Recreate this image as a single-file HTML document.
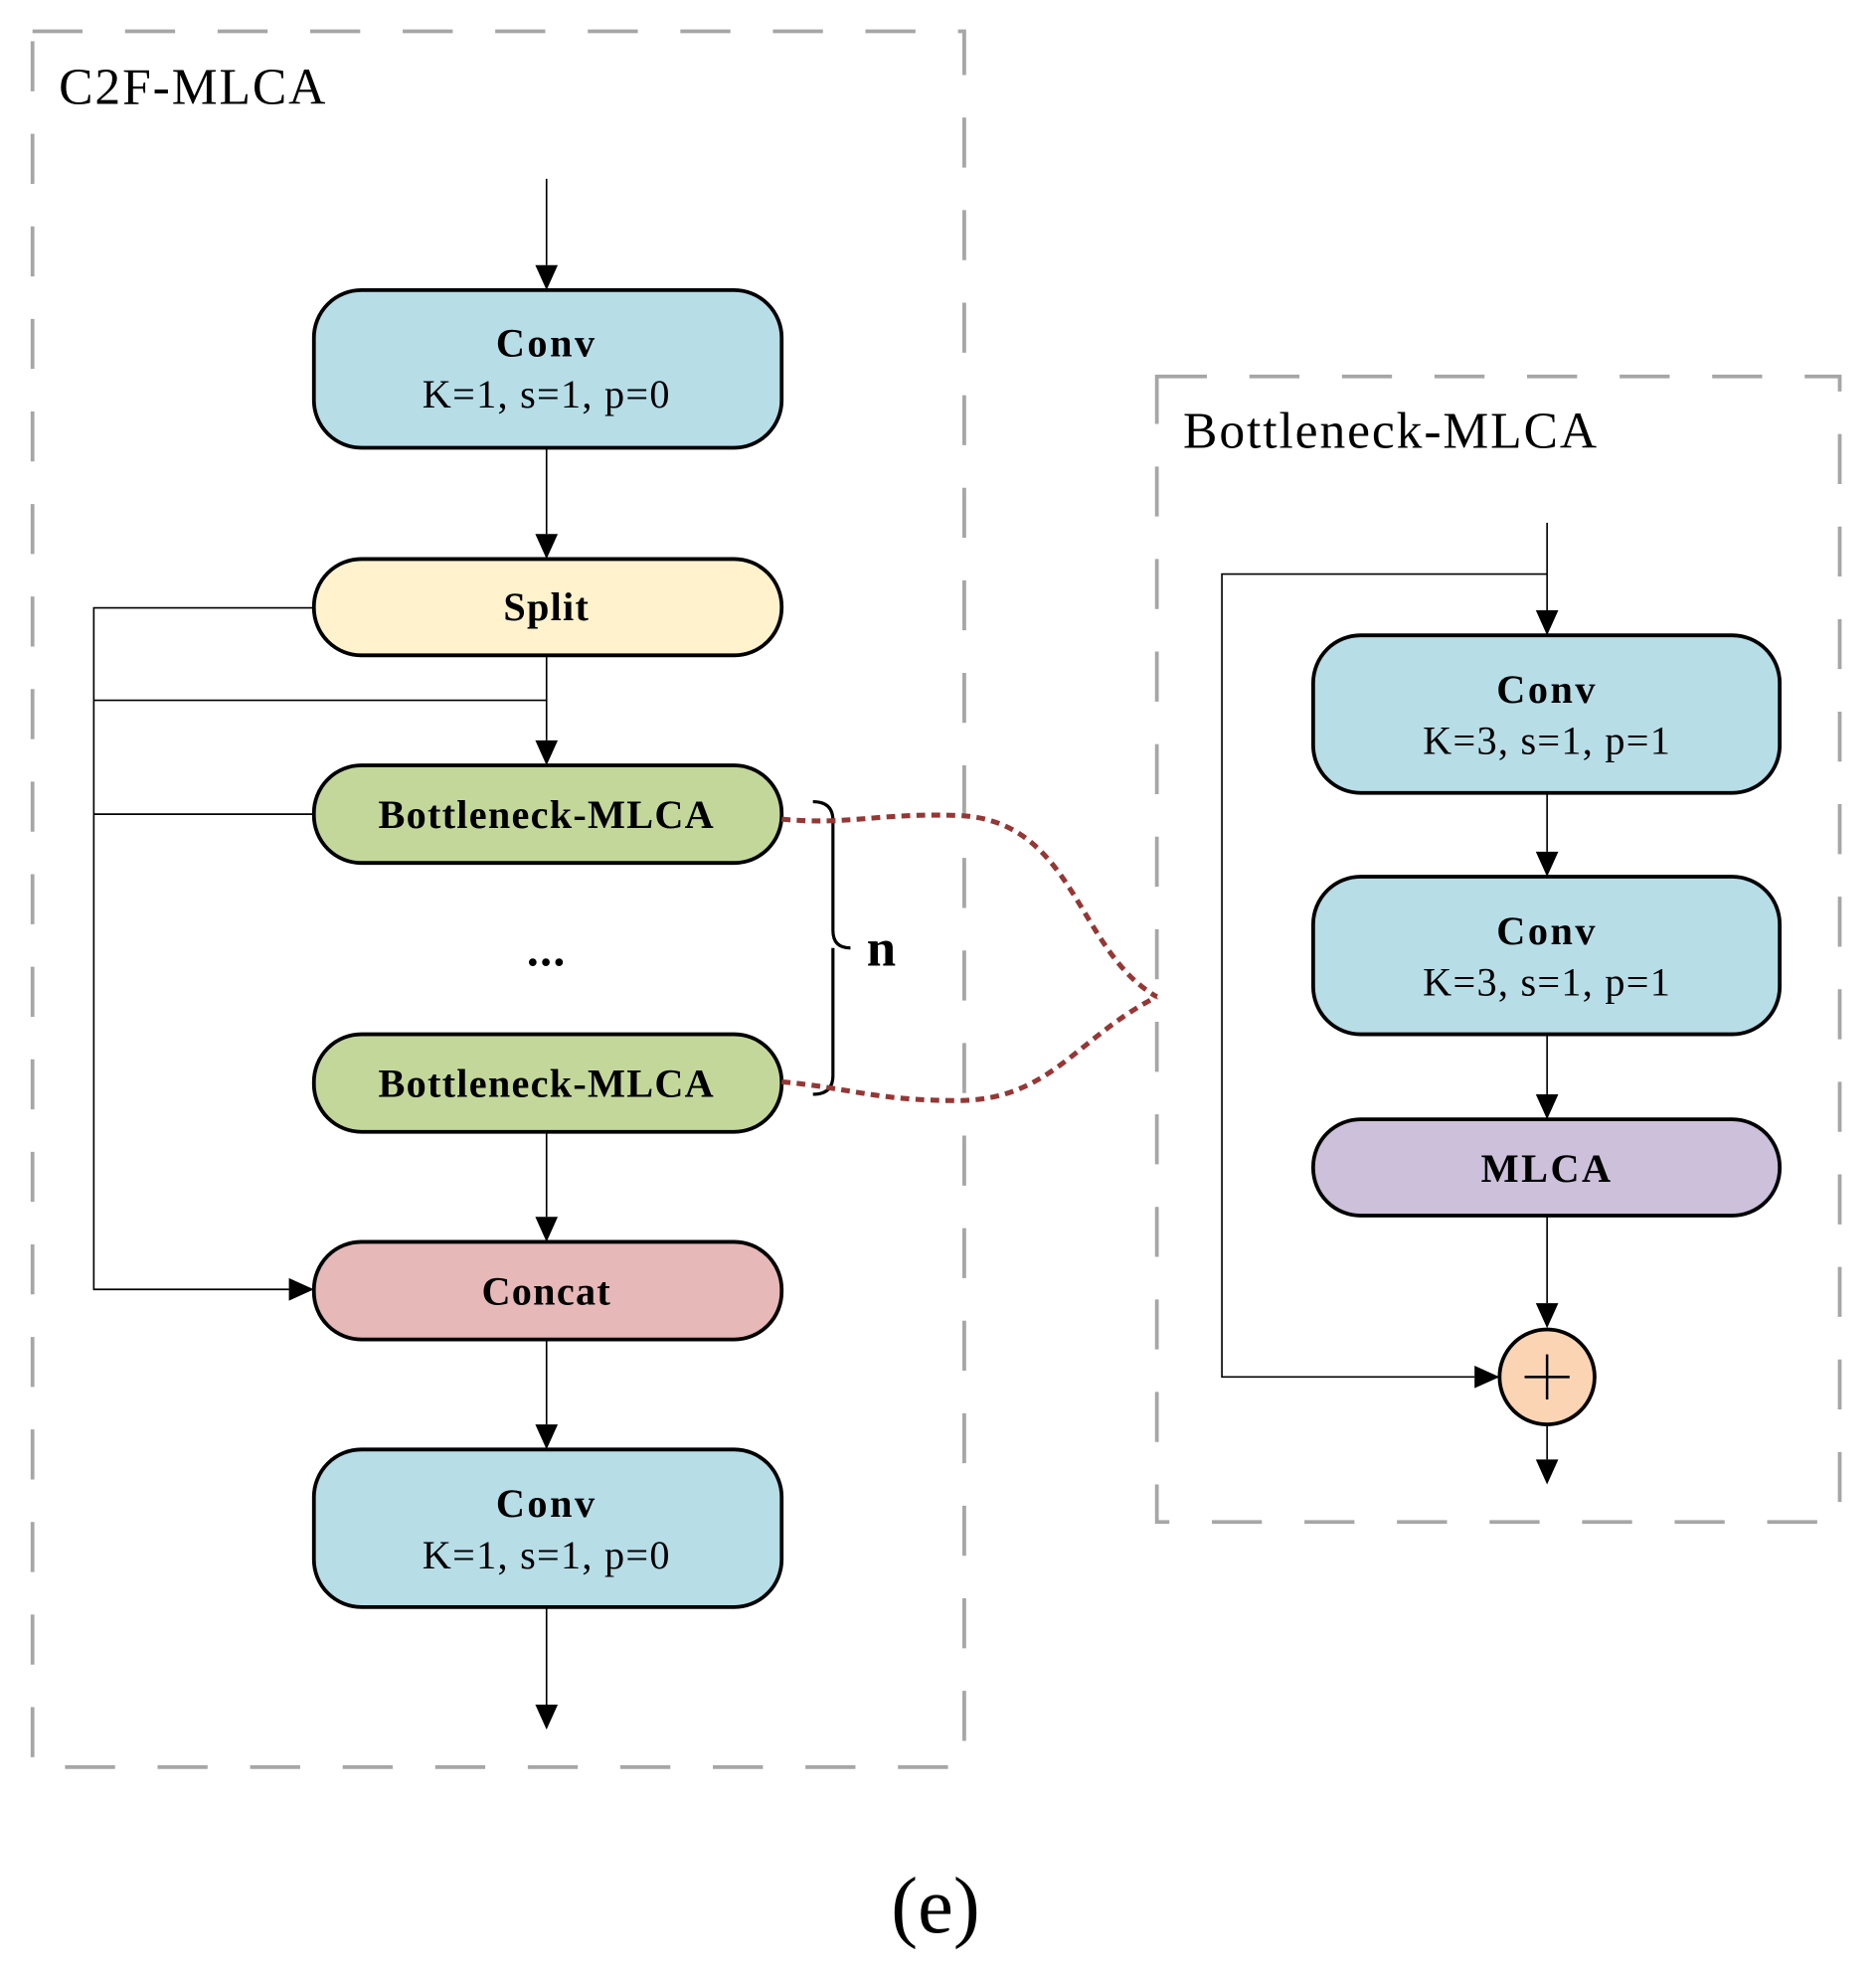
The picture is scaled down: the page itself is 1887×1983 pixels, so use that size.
<!DOCTYPE html>
<html><head><meta charset="utf-8"><style>html,body{margin:0;padding:0;background:#fff}svg{display:block}</style></head>
<body>
<svg width="1887" height="1983" viewBox="0 0 1500 1576" preserveAspectRatio="none" xmlns="http://www.w3.org/2000/svg" font-family="Liberation Serif, serif">
<g fill="none" stroke="#a6a6a6" stroke-width="3" stroke-dasharray="40,34">
<rect x="26" y="25" width="745" height="1388"/>
<rect x="925" y="301" width="546" height="916"/>
</g>
<text x="47" y="83" font-size="41" letter-spacing="1.5">C2F-MLCA</text>
<text x="946" y="358" font-size="41" letter-spacing="1.5">Bottleneck-MLCA</text>
<g stroke="#000" stroke-width="1.3" fill="none">
<path d="M437,143 V212"/><path d="M437,358 V427"/><path d="M437,524 V592"/>
<path d="M75,560 H437"/><path d="M251,486 H75 V1031 H231"/><path d="M251,651 H75"/>
<path d="M437,905 V973"/><path d="M437,1071 V1139"/><path d="M437,1285 V1363"/>
<path d="M1237,418 V488"/><path d="M1237,459 H977 V1101 H1179"/>
<path d="M1237,634 V681"/><path d="M1237,827 V875"/><path d="M1237,972 V1042"/><path d="M1237,1140 V1167"/>
</g>
<g fill="#000">
<path d="M428,212 L446,212 L437,232 z"/><path d="M428,427 L446,427 L437,447 z"/><path d="M428,592 L446,592 L437,612 z"/>
<path d="M428,973 L446,973 L437,993 z"/><path d="M428,1139 L446,1139 L437,1159 z"/><path d="M428,1363 L446,1363 L437,1383 z"/>
<path d="M231,1022 L231,1040 L251,1031 z"/>
<path d="M1228,488 L1246,488 L1237,508 z"/><path d="M1228,681 L1246,681 L1237,701 z"/><path d="M1228,875 L1246,875 L1237,895 z"/>
<path d="M1228,1042 L1246,1042 L1237,1062 z"/><path d="M1228,1167 L1246,1167 L1237,1187 z"/>
<path d="M1179,1092 L1179,1110 L1199,1101 z"/>
</g>
<g stroke="#000" stroke-width="3">
<rect x="251" y="232" width="374" height="126" rx="38" fill="#b7dde7"/>
<rect x="251" y="447" width="374" height="77" rx="38" fill="#fff2cc"/>
<rect x="251" y="612" width="374" height="78" rx="38" fill="#c4d79b"/>
<rect x="251" y="827" width="374" height="78" rx="38" fill="#c4d79b"/>
<rect x="251" y="993" width="374" height="78" rx="38" fill="#e6b8b7"/>
<rect x="251" y="1159" width="374" height="126" rx="38" fill="#b7dde7"/>
<rect x="1050" y="508" width="373" height="126" rx="38" fill="#b7dde7"/>
<rect x="1050" y="701" width="373" height="126" rx="38" fill="#b7dde7"/>
<rect x="1050" y="895" width="373" height="77" rx="38" fill="#ccc0da"/>
<circle cx="1237" cy="1101" r="38" fill="#fbd4b4"/>
</g>
<path d="M1219,1101 H1255 M1237,1083 V1119" stroke="#000" stroke-width="2"/>
<g font-size="32" text-anchor="middle" letter-spacing="1">
<text x="437" y="285" font-weight="bold" letter-spacing="2">Conv</text><text x="437" y="326">K=1, s=1, p=0</text>
<text x="437" y="496" font-weight="bold">Split</text>
<text x="437" y="662" font-weight="bold">Bottleneck-MLCA</text>
<text x="437" y="772" font-weight="bold" font-size="38">...</text>
<text x="437" y="877" font-weight="bold">Bottleneck-MLCA</text>
<text x="437" y="1043" font-weight="bold">Concat</text>
<text x="437" y="1213" font-weight="bold" letter-spacing="2">Conv</text><text x="437" y="1254">K=1, s=1, p=0</text>
<text x="1237" y="562" font-weight="bold" letter-spacing="2">Conv</text><text x="1237" y="603">K=3, s=1, p=1</text>
<text x="1237" y="755" font-weight="bold" letter-spacing="2">Conv</text><text x="1237" y="796">K=3, s=1, p=1</text>
<text x="1237" y="945" font-weight="bold" letter-spacing="2">MLCA</text>
</g>
<path d="M650,641 Q666,641 666,656 V744 Q666,758 680,758 M666,758 V860 Q666,875 650,875" fill="none" stroke="#000" stroke-width="2.5"/>
<text x="693" y="772" font-size="42" font-weight="bold">n</text>
<g fill="none" stroke="#953735" stroke-width="4" stroke-dasharray="7,5">
<path d="M625,655 C680,660 700,650 765,652 C860,655 860,760 925,797"/>
<path d="M625,865 C680,870 700,880 765,880 C840,880 860,830 925,797"/>
</g>
<text x="748" y="1545" font-size="64" text-anchor="middle">(e)</text>
</svg>
</body></html>
